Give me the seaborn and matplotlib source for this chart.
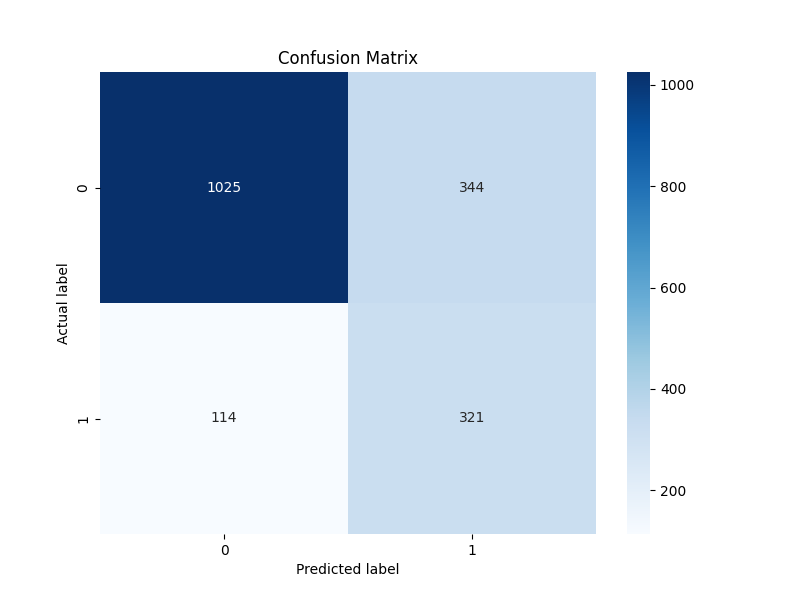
import matplotlib
matplotlib.use("Agg")
import matplotlib.pyplot as plt
import seaborn as sns
import numpy as np

labels = ["0", "1"]
row_0 = [1025, 344]
row_1 = [114, 321]

cm = np.array([row_0, row_1])

plt.figure(figsize=(8, 6), dpi=100)
sns.heatmap(cm, annot=True, fmt="d", cmap="Blues",
            xticklabels=labels, yticklabels=labels)
plt.title("Confusion Matrix")
plt.xlabel("Predicted label")
plt.ylabel("Actual label")
plt.savefig("out.png")
